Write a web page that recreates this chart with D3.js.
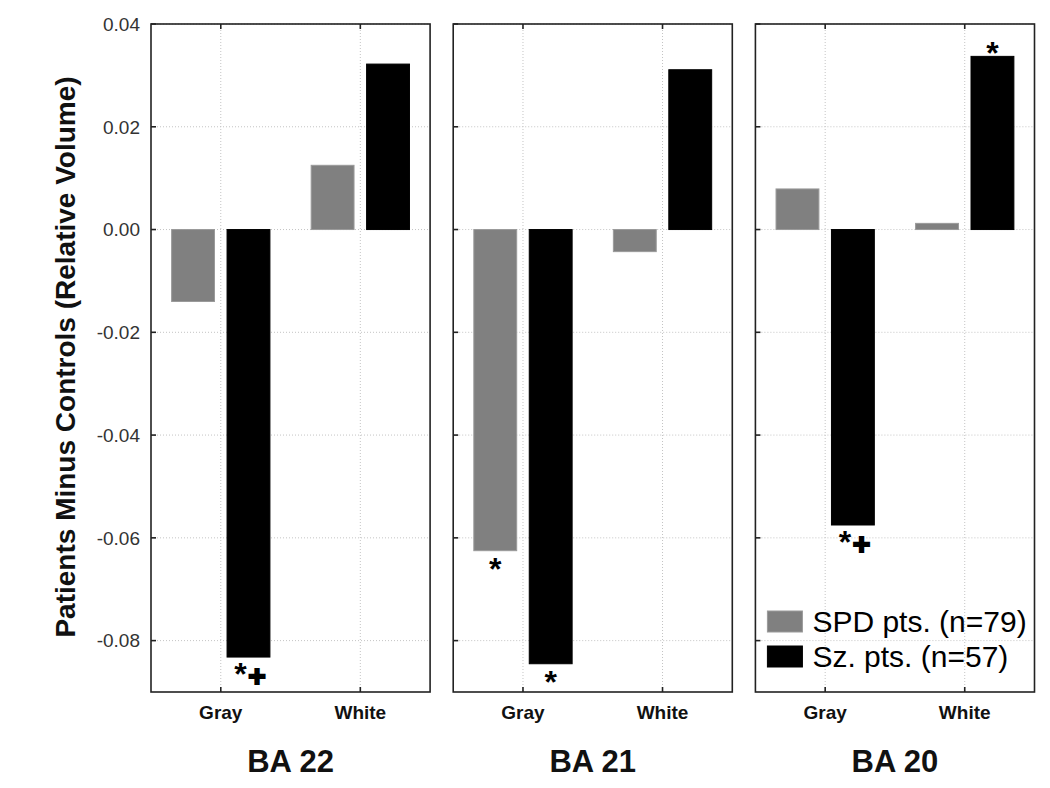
<!DOCTYPE html>
<html>
<head>
<meta charset="utf-8">
<script src="https://cdn.jsdelivr.net/npm/d3@7"></script>
<style>
  html, body { margin: 0; padding: 0; background: #fff; }
  svg { display: block; font-family: "Liberation Sans", Arial, sans-serif; }
</style>
</head>
<body>
<svg id="chart" width="1050" height="788"></svg>
<script>
// ---- data ----
const panels = ["BA 22", "BA 21", "BA 20"];
const categories = ["Gray", "White"];
const series = ["SPD pts. (n=79)", "Sz. pts. (n=57)"];
// values per panel, [Gray, White]
const spdValues = [[-0.014, 0.0125], [-0.0625, -0.0043], [0.0079, 0.0012]];
const szValues  = [[-0.0832, 0.0322], [-0.0845, 0.0311], [-0.0575, 0.0337]];
const yTicks = [-0.08, -0.06, -0.04, -0.02, 0.00, 0.02, 0.04];
const yDomain = [-0.09, 0.04];
const yLabel = "Patients Minus Controls (Relative Volume)";
// significance marks: [panel index, category, series index, text]
const marks = [
  [0, "Gray", 1, "*+"],
  [1, "Gray", 0, "*"],
  [1, "Gray", 1, "*"],
  [2, "Gray", 1, "*+"],
  [2, "White", 1, "*"]
];
const colors = ["#808080", "#000000"];

// ---- layout ----
const svg = d3.select("#chart");
const yTop = 24, yBottom = 692;
const panelX = d3.scaleBand().domain(panels).range([151, 1034.5]).paddingInner(0.0765);
const pw = panelX.bandwidth();
const y = d3.scaleLinear().domain(yDomain).range([yBottom, yTop]);
const x = d3.scaleBand().domain(categories).range([0, pw]);
const xs = d3.scaleBand().domain(series).range([0, x.bandwidth()]).paddingInner(0.2266).paddingOuter(0.372);
const fmt = d => d3.format(".2f")(d).replace("\u2212", "-");

// y tick labels
svg.append("g").selectAll("text").data(yTicks).join("text")
  .attr("x", 140).attr("y", d => y(d)).attr("dy", "0.36em")
  .attr("text-anchor", "end").attr("font-size", 19).attr("fill", "#333")
  .text(fmt);

// y label
svg.append("text")
  .attr("transform", `translate(75,357) rotate(-90)`)
  .attr("text-anchor", "middle").attr("font-size", 28).attr("font-weight", "bold")
  .attr("fill", "#111")
  .text(yLabel);

panels.forEach((p, pi) => {
  const g = svg.append("g").attr("transform", `translate(${panelX(p)},0)`);
  // grid
  g.append("g").selectAll("line").data(yTicks).join("line")
    .attr("x1", 0).attr("x2", pw).attr("y1", d => y(d)).attr("y2", d => y(d))
    .attr("stroke", "#c4c4c4").attr("stroke-width", 1).attr("stroke-dasharray", "1,2");
  g.append("g").selectAll("line").data(categories).join("line")
    .attr("x1", d => x(d) + x.bandwidth() / 2).attr("x2", d => x(d) + x.bandwidth() / 2)
    .attr("y1", yTop).attr("y2", yBottom)
    .attr("stroke", "#c4c4c4").attr("stroke-width", 1).attr("stroke-dasharray", "1,2");
  // bars
  const vals = [spdValues[pi], szValues[pi]];
  categories.forEach((c, ci) => {
    series.forEach((s, si) => {
      const v = vals[si][ci];
      g.append("rect")
        .attr("x", x(c) + xs(s)).attr("width", xs.bandwidth())
        .attr("y", y(Math.max(0, v))).attr("height", Math.abs(y(v) - y(0)))
        .attr("fill", colors[si])
        .attr("stroke", si === 0 ? "#9a9a9a" : "#000").attr("stroke-width", 1);
    });
  });
  // frame
  g.append("rect").attr("x", 0).attr("y", yTop).attr("width", pw).attr("height", yBottom - yTop)
    .attr("fill", "none").attr("stroke", "#222").attr("stroke-width", 1.6);
  // inward ticks
  g.append("g").selectAll("line").data(yTicks).join("line")
    .attr("x1", 0).attr("x2", 5).attr("y1", d => y(d)).attr("y2", d => y(d))
    .attr("stroke", "#222").attr("stroke-width", 1.6);
  categories.forEach(c => {
    const cx = x(c) + x.bandwidth() / 2;
    g.append("line").attr("x1", cx).attr("x2", cx).attr("y1", yTop).attr("y2", yTop + 5)
      .attr("stroke", "#222").attr("stroke-width", 1.6);
    g.append("line").attr("x1", cx).attr("x2", cx).attr("y1", yBottom).attr("y2", yBottom - 5)
      .attr("stroke", "#222").attr("stroke-width", 1.6);
    g.append("text").attr("x", cx).attr("y", 719).attr("text-anchor", "middle")
      .attr("font-size", 19).attr("font-weight", "bold").attr("fill", "#111").text(c);
  });
  // panel title
  g.append("text").attr("x", pw / 2).attr("y", 772).attr("text-anchor", "middle")
    .attr("font-size", 31).attr("font-weight", "bold").attr("fill", "#111").text(p);
  // significance marks
  const star = (gx, cy) => g.append("text").attr("x", gx).attr("y", cy + 15.5)
    .attr("text-anchor", "middle").attr("font-size", 32).attr("font-weight", "bold")
    .attr("fill", "#000").text("*");
  marks.filter(m => m[0] === pi).forEach(m => {
    const [, c, si, txt] = m;
    const v = vals[si][categories.indexOf(c)];
    const cx = x(c) + xs(series[si]) + xs.bandwidth() / 2;
    const end = y(v);
    if (txt === "*+") {
      star(cx - 8, end + 12);
      g.append("text").attr("x", cx + 8.5).attr("y", end + 19 + 10).attr("text-anchor", "middle")
        .attr("font-size", 30).attr("font-weight", "bold").attr("fill", "#000")
        .attr("stroke", "#000").attr("stroke-width", 2).text("+");
    } else {
      star(cx, v < 0 ? end + 14 : end - 8);
    }
  });
  // legend in last panel
  if (pi === panels.length - 1) {
    const lg = g.append("g").attr("transform", "translate(12,0)");
    series.forEach((s, si) => {
      const ly = 611 + si * 35;
      lg.append("rect").attr("x", 0).attr("y", ly).attr("width", 35).attr("height", 21)
        .attr("fill", colors[si]).attr("stroke", si === 0 ? "#9a9a9a" : "#000");
      lg.append("text").attr("x", 45).attr("y", ly + 21).attr("font-size", 30)
        .attr("fill", "#000").text(s);
    });
  }
});
</script>
</body>
</html>
